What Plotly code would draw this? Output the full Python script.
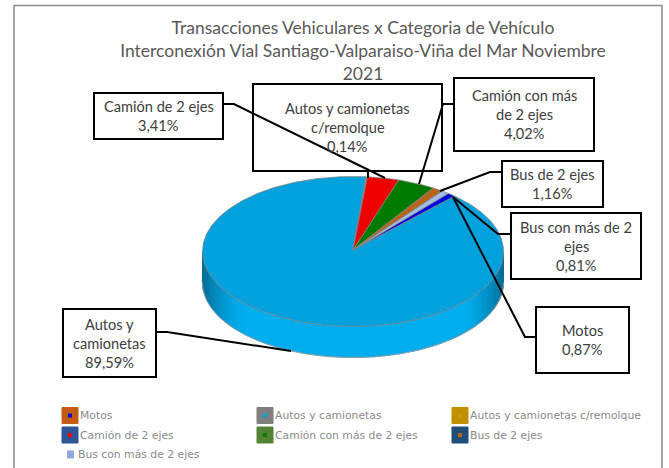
import math
import plotly.graph_objects as go

categories = ["Motos", "Autos y camionetas", "Autos y camionetas c/remolque",
              "Camión de 2 ejes", "Camión con más de 2 ejes", "Bus de 2 ejes",
              "Bus con más de 2 ejes"]
values = [0.87, 89.59, 0.14, 3.41, 4.02, 1.16, 0.81]
slice_colors = ["#0000e6", "#00a2de", "#c89a00", "#ee0000", "#007a00", "#b8641c", "#9fc0e4"]
legend_colors = ["#c55a11", "#7f7f7f", "#bf9000", "#2f5597", "#548235", "#1f4e79", "#8faadc"]
label_lines = [["Motos"], ["Autos y", "camionetas"], ["Autos y camionetas", "c/remolque"],
               ["Camión de 2 ejes"], ["Camión con más", "de 2 ejes"], ["Bus de 2 ejes"],
               ["Bus con más de 2", "ejes"]]
title_text = ("Transacciones Vehiculares x Categoria de Vehículo<br>"
              "Interconexión Vial Santiago-Valparaiso-Viña del Mar Noviembre<br>2021")

W, H = 669, 468
CX, CY, RX, RY, DEPTH = 353, 251.5, 150.5, 75, 31
START_DEG = 39.3  # where the first slice begins, clockwise from the top
LABEL_FONT = "Lato, 'Open Sans', sans-serif"
LINE_STEP = 19

# label box: x0, y0, x1, y1 ; leader polyline
boxes = {
    "Motos": ((536, 307, 629, 373), [(536, 337), (525, 337), (453, 197)]),
    "Autos y camionetas": ((63, 309, 156, 377), [(156, 332), (167, 332), (291, 351)]),
    "Autos y camionetas c/remolque": ((253, 84, 442, 171), [(368, 171), (368, 178)]),
    "Camión de 2 ejes": ((94, 93, 223, 139), [(223, 104), (234, 104), (385, 178)]),
    "Camión con más de 2 ejes": ((454, 78, 594, 151), [(454, 104), (443, 104), (419, 184)]),
    "Bus de 2 ejes": ((502, 161, 603, 207), [(502, 172), (490, 172), (440, 191)]),
    "Bus con más de 2 ejes": ((511, 213, 641, 279), [(511, 234), (498, 234), (453, 197)]),
}


def pt(t_deg, dy=0.0):
    a = math.radians(t_deg)
    return CX + RX * math.sin(a), CY - RY * math.cos(a) + dy


fig = go.Figure()

# side wall: shaded strips along the front half
n = 90
for i in range(n):
    t0 = 90 + 180 * i / n
    t1 = 90 + 180 * (i + 1) / n
    p0, p1 = pt(t0), pt(t1 + 0.4)
    q0, q1 = pt(t0, DEPTH), pt(t1 + 0.4, DEPTH)
    s = abs(math.sin(math.radians((t0 + t1) / 2)))
    k = max(0.0, (s - 0.72) / 0.28) ** 1.6
    col = "rgb(%d,%d,%d)" % (0, 174 - 66 * k, 239 - 90 * k)
    fig.add_trace(go.Scatter(x=[p0[0], p1[0], q1[0], q0[0], p0[0]],
                             y=[p0[1], p1[1], q1[1], q0[1], p0[1]],
                             mode="lines", fill="toself", fillcolor=col,
                             line=dict(color=col, width=0.5),
                             hoverinfo="skip", showlegend=False))

# rim of the side wall
rim = [pt(90 + 180 * i / 120, DEPTH) for i in range(121)]
fig.add_trace(go.Scatter(x=[p[0] for p in rim], y=[p[1] for p in rim], mode="lines",
                         line=dict(color="#8a9aa2", width=1), hoverinfo="skip", showlegend=False))

# top face wedges, sizes taken from the values
total = sum(values)
angle = START_DEG
for name, val, col in zip(categories, values, slice_colors):
    sweep = val / total * 360
    steps = max(2, int(sweep))
    arc = [pt(angle + sweep * j / steps) for j in range(steps + 1)]
    xs = [CX] + [p[0] for p in arc] + [CX]
    ys = [CY - 1.5] + [p[1] for p in arc] + [CY - 1.5]
    fig.add_trace(go.Scatter(x=xs, y=ys, mode="lines", fill="toself", fillcolor=col,
                             line=dict(color="#808080", width=0.8), name=name,
                             hoverinfo="name", showlegend=False))
    angle += sweep

shapes = [dict(type="rect", x0=14, y0=5.5, x1=662, y1=480,
               line=dict(color="#8c8c8c", width=1.5), fillcolor="rgba(0,0,0,0)", layer="below")]
annotations = []

# data labels
for name, val, lines in zip(categories, values, label_lines):
    (x0, y0, x1, y1), leader = boxes[name]
    shapes.append(dict(type="rect", x0=x0, y0=y0, x1=x1, y1=y1, fillcolor="white",
                       line=dict(color="black", width=2), layer="above"))
    rows = lines + [f"{val:.2f}".replace(".", ",") + "%"]
    top = (y0 + y1) / 2 - (len(rows) - 1) * LINE_STEP / 2
    for j, row in enumerate(rows):
        annotations.append(dict(x=(x0 + x1) / 2, y=top + j * LINE_STEP, xref="x", yref="y",
                                text=row, showarrow=False, align="center",
                                font=dict(family=LABEL_FONT, size=14.6, color="#404040")))
for name in categories:
    leader = boxes[name][1]
    path = "M " + " L ".join(f"{x} {y}" for x, y in leader)
    shapes.append(dict(type="path", path=path, line=dict(color="black", width=2), layer="above"))

# legend
col_x = [62, 257, 452]
row_y = [415.5, 435]
for i, (name, lc, sc) in enumerate(zip(categories, legend_colors, slice_colors)):
    if i < 6:
        x = col_x[i % 3]
        y = row_y[i // 3]
        shapes.append(dict(type="rect", x0=x, y0=y - 8, x1=x + 16, y1=y + 8, fillcolor=lc,
                           line=dict(color=lc, width=1), layer="above"))
        shapes.append(dict(type="rect", x0=x + 6, y0=y - 2, x1=x + 10, y1=y + 2, fillcolor=sc,
                           line=dict(width=0), layer="above"))
        tx = x + 16
    else:
        x, y = 67, 454.5
        shapes.append(dict(type="rect", x0=x, y0=y - 4, x1=x + 7, y1=y + 4, fillcolor=lc,
                           line=dict(width=0), layer="above"))
        tx = x + 9
    annotations.append(dict(x=tx, y=y, xref="x", yref="y", xanchor="left", text=name,
                            showarrow=False,
                            font=dict(family="'DejaVu Sans', sans-serif", size=10.8, color="#8a8a8a")))

fig.update_layout(
    width=W, height=H, autosize=False,
    margin=dict(l=0, r=0, t=0, b=0),
    paper_bgcolor="white", plot_bgcolor="white", showlegend=False,
    title=dict(text=title_text, x=363 / W, xanchor="center", y=1 - 34 / H, yanchor="top",
               font=dict(family=LABEL_FONT, size=17.5, color="#595959")),
    xaxis=dict(range=[0, W], visible=False, fixedrange=True),
    yaxis=dict(range=[H, 0], visible=False, fixedrange=True),
    shapes=shapes, annotations=annotations,
)
fig.write_html("out.html", config=dict(displayModeBar=False),
               post_script="document.body.style.margin='0';document.documentElement.style.overflow='hidden';")
